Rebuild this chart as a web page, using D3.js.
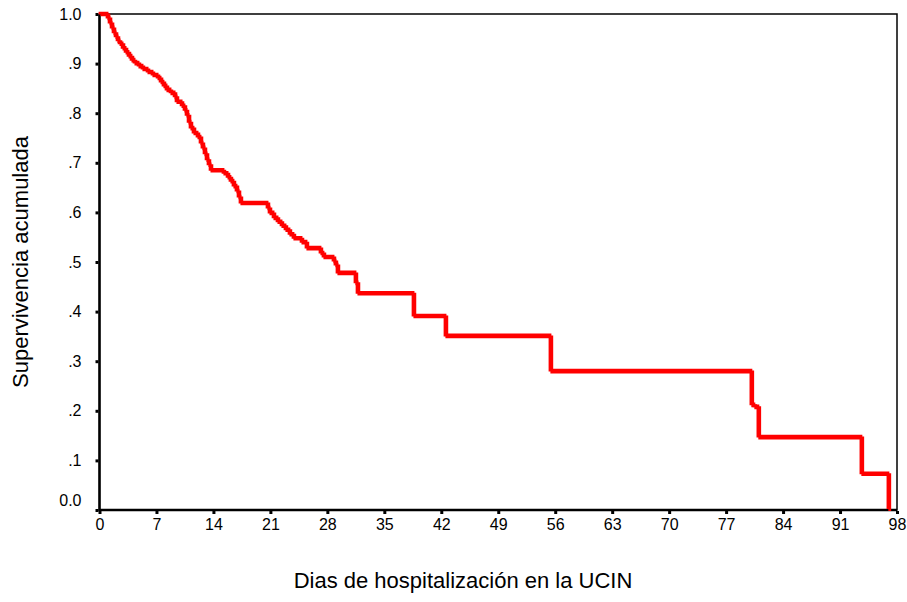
<!DOCTYPE html>
<html>
<head>
<meta charset="utf-8">
<script src="https://cdn.jsdelivr.net/npm/d3@7"></script>
<style>
  body { margin: 0; background: #fff; }
  text { font-family: "Liberation Sans", Arial, sans-serif; fill: #000; }
</style>
</head>
<body>
<svg width="907" height="602"></svg>
<script>
// Kaplan-Meier steps: day of each drop and survival after it
var dias = [0, 1.04, 1.29, 1.54, 1.78, 2.03, 2.27, 2.52, 2.89, 3.26, 3.62, 3.99, 4.36, 4.85, 5.34,
  5.96, 6.57, 7.19, 7.56, 7.92, 8.29, 8.78, 9.28, 9.52, 10.14, 10.50, 10.75, 11.00, 11.24, 11.61,
  12.10, 12.47, 12.71, 12.96, 13.21, 13.45, 13.70, 15.29, 15.79, 16.15, 16.52, 16.89, 17.14, 17.38,
  20.70, 20.95, 21.44, 21.93, 22.42, 22.91, 23.40, 23.89, 24.88, 25.49, 27.21, 27.58, 28.81, 29.05,
  29.30, 31.51, 31.76, 38.64, 42.57, 55.47, 80.16, 80.53, 81.02, 93.68, 97.00];
var supervivencia = [1.0, 0.992, 0.982, 0.972, 0.962, 0.954, 0.946, 0.940, 0.931, 0.923, 0.915, 0.907,
  0.901, 0.895, 0.889, 0.883, 0.877, 0.871, 0.863, 0.855, 0.847, 0.841, 0.833, 0.823, 0.815, 0.806,
  0.796, 0.782, 0.770, 0.760, 0.752, 0.740, 0.730, 0.718, 0.706, 0.696, 0.685, 0.679, 0.671, 0.663,
  0.653, 0.643, 0.631, 0.619, 0.609, 0.599, 0.589, 0.581, 0.573, 0.565, 0.556, 0.548, 0.540, 0.528,
  0.518, 0.510, 0.502, 0.494, 0.478, 0.458, 0.437, 0.391, 0.351, 0.280, 0.212, 0.208, 0.147, 0.073, 0.0];

var xTicks = [0, 7, 14, 21, 28, 35, 42, 49, 56, 63, 70, 77, 84, 91, 98];
var yTicks = [0, 0.1, 0.2, 0.3, 0.4, 0.5, 0.6, 0.7, 0.8, 0.9, 1.0];
var yTickLabels = ['0.0', '.1', '.2', '.3', '.4', '.5', '.6', '.7', '.8', '.9', '1.0'];

var svg = d3.select('svg');
var plot = {l: 99.5, r: 897, t: 14, b: 510};

var xScale = d3.scaleLinear().domain([0, 98]).range([plot.l, plot.r]);
var yScale = d3.scaleLinear().domain([0, 1]).range([plot.b, plot.t]);

// frame
svg.append('rect')
  .attr('x', plot.l).attr('y', plot.t)
  .attr('width', plot.r - plot.l).attr('height', plot.b - plot.t)
  .attr('fill', 'none').attr('stroke', '#000').attr('stroke-width', 1.5);
svg.append('line')
  .attr('x1', plot.l).attr('x2', plot.l).attr('y1', plot.t).attr('y2', plot.b + 1)
  .attr('stroke', '#000').attr('stroke-width', 2.5);
svg.append('line')
  .attr('x1', plot.l).attr('x2', plot.r).attr('y1', plot.b).attr('y2', plot.b)
  .attr('stroke', '#000').attr('stroke-width', 2.5);

// y axis
var yAx = svg.append('g')
  .attr('transform', 'translate(' + (plot.l - 1) + ',0)')
  .call(d3.axisLeft(yScale).tickValues(yTicks).tickSize(3).tickPadding(14)
    .tickFormat(function(d, i) { return yTickLabels[i]; }));
yAx.select('.domain').remove();
yAx.selectAll('.tick line').attr('stroke-width', 3);
yAx.selectAll('.tick text').style('font-size', '16px');
yAx.selectAll('.tick').filter(function(d) { return d === 0; })
  .select('text').attr('dy', '-0.3em');

// x axis
var xAx = svg.append('g')
  .attr('transform', 'translate(0,' + (plot.b + 1) + ')')
  .call(d3.axisBottom(xScale).tickValues(xTicks).tickSize(3).tickPadding(5));
xAx.select('.domain').remove();
xAx.selectAll('.tick line').attr('stroke-width', 3);
xAx.selectAll('.tick text').style('font-size', '16px');

// titles
svg.append('text')
  .attr('transform', 'translate(28,262) rotate(-90)')
  .attr('text-anchor', 'middle')
  .style('font-size', '22px')
  .text('Supervivencia acumulada');
svg.append('text')
  .attr('x', 463).attr('y', 588)
  .attr('text-anchor', 'middle')
  .style('font-size', '22px')
  .text('Dias de hospitalización en la UCIN');

// survival curve
var puntos = dias.map(function(d, i) { return {t: d, s: supervivencia[i]}; });
var line = d3.line()
  .x(function(d) { return xScale(d.t); })
  .y(function(d) { return yScale(d.s); })
  .curve(d3.curveStepAfter);

[-0.9, 0.9].forEach(function(off) {
  svg.append('path')
    .datum(puntos)
    .attr('transform', 'translate(' + off + ',' + off + ')')
    .attr('fill', 'none')
    .attr('stroke', '#ff0000')
    .attr('stroke-width', 2.8)
    .attr('d', line);
});
</script>
</body>
</html>
